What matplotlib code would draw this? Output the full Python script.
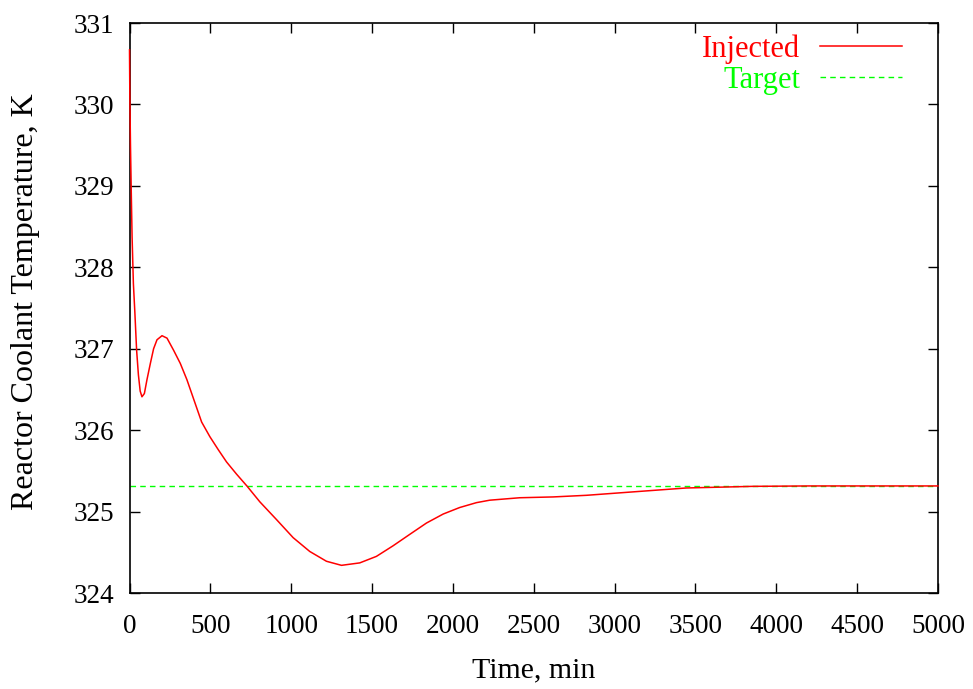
import matplotlib
matplotlib.use("Agg")
import matplotlib.pyplot as plt

plt.rcParams['font.family'] = ['Liberation Serif', 'DejaVu Serif']

# Data
time_min = [0, 2, 6, 11, 16, 24, 33, 44, 55, 66, 77, 92, 108, 129, 149, 170,
            201, 232, 273, 314, 355, 397, 446, 497, 549, 600, 662, 728, 806,
            910, 1012, 1115, 1218, 1311, 1424, 1527, 1630, 1733, 1837, 1940,
            2042, 2146, 2228, 2413, 2620, 2826, 3031, 3237, 3443, 3650, 3855,
            4200, 4600, 5000]
injected_T = [330.67, 330.12, 329.50, 328.91, 328.37, 327.80, 327.45, 326.98,
              326.68, 326.48, 326.41, 326.45, 326.62, 326.82, 327.00, 327.11,
              327.16, 327.13, 326.98, 326.82, 326.62, 326.38, 326.10, 325.92,
              325.76, 325.61, 325.46, 325.31, 325.12, 324.90, 324.68, 324.51,
              324.39, 324.34, 324.37, 324.45, 324.58, 324.72, 324.86, 324.97,
              325.05, 325.11, 325.14, 325.17, 325.18, 325.20, 325.23, 325.26,
              325.29, 325.30, 325.31, 325.315, 325.315, 325.315]
target_T = 325.315

x_ticks = list(range(0, 5001, 500))
y_ticks = list(range(324, 332))

fig = plt.figure(figsize=(9.73, 6.89), dpi=100)
ax = fig.add_axes([0.1331, 0.1393, 0.8309, 0.8273])

ax.plot(time_min, injected_T, color=(1, 0, 0), lw=1.1, label='Injected',
        zorder=3, clip_on=False)
ax.axhline(target_T, color=(0, 1, 0), lw=1.0, ls=(0, (4, 3)), label='Target')

ax.set_xlim(0, 5000)
ax.set_ylim(324, 331)
ax.set_xticks(x_ticks)
ax.set_yticks(y_ticks)
ax.tick_params(direction='in', length=7, width=1.0, top=True, right=True,
               labelsize=19.5, pad=15)
ax.tick_params(axis='y', pad=11)
for s in ax.spines.values():
    s.set_linewidth(1.2)

ax.set_xlabel('Time, min', fontsize=21.5, labelpad=13)
ax.set_ylabel('Reactor Coolant Temperature, K', fontsize=23)
ax.yaxis.set_label_coords(-0.111, 0.511)

leg = ax.legend(loc='upper right', bbox_to_anchor=(0.9703, 1.0), frameon=False,
                markerfirst=False, fontsize=22, handlelength=2.7,
                handletextpad=0.65, labelspacing=0.05, borderaxespad=0.38,
                borderpad=0.0, labelcolor=[(1, 0, 0), (0, 1, 0)])

fig.savefig('out.png', dpi=100)
